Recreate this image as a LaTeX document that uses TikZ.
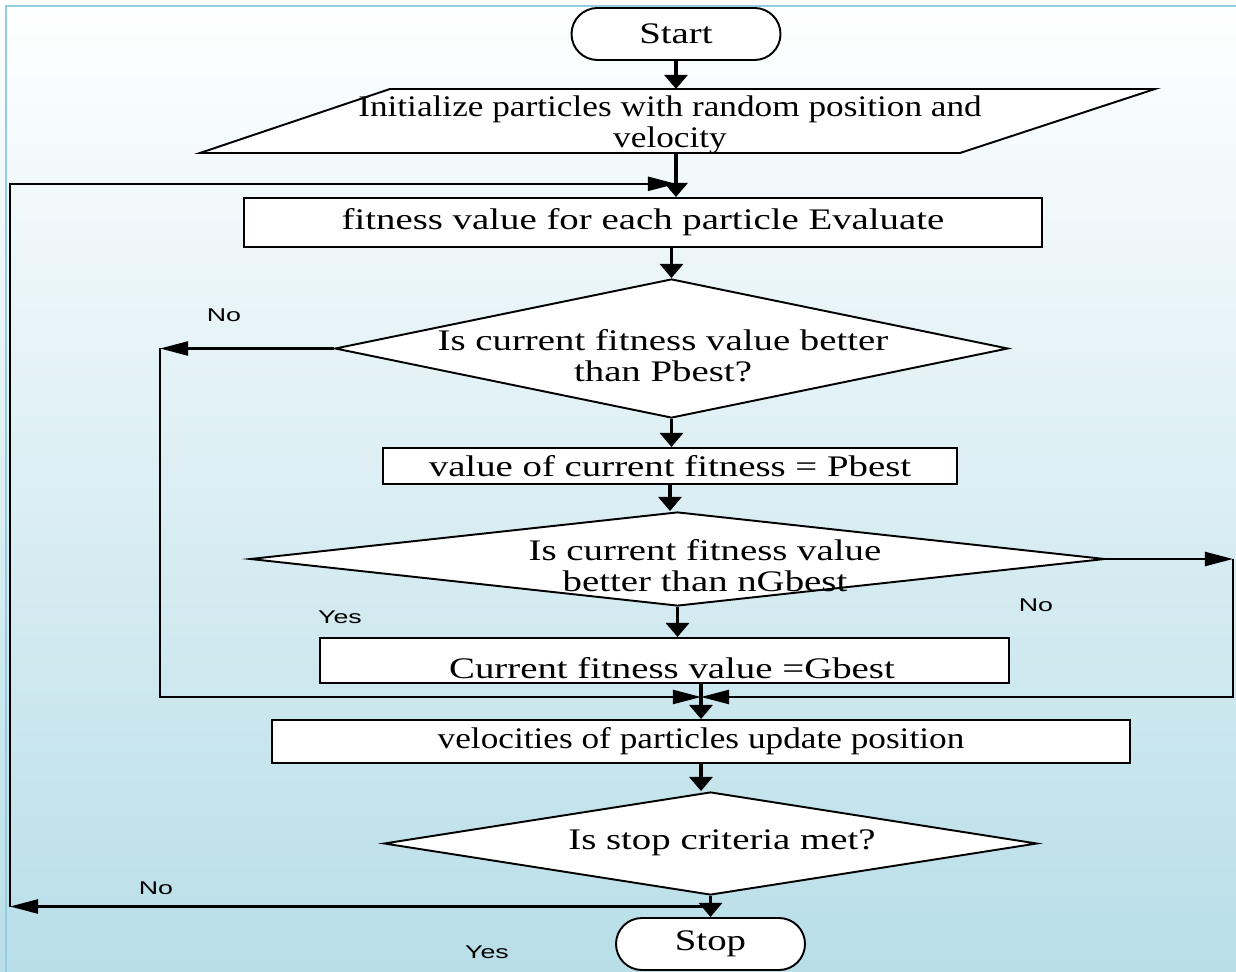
\documentclass[tikz,border=0pt]{standalone}
\usepackage{fontspec}
\setmainfont[FakeStretch=1.3]{Liberation Serif}
\newfontfamily\initfont[FakeStretch=1.18]{Liberation Serif}
\newfontfamily\yesnofont[FakeStretch=1.45]{Liberation Sans}
\usepackage{tikz}
\usetikzlibrary{arrows.meta,shapes.geometric,calc,positioning}
\definecolor{bgblue}{RGB}{184,222,232}
\definecolor{frameblue}{RGB}{150,205,222}

\begin{document}
\begin{tikzpicture}[x=0.02cm,y=-0.02cm,
  every node/.style={font=\fontsize{17}{17.5}\selectfont},
  narrow/.style={font=\initfont\fontsize{17}{17.5}\selectfont},
  box/.style={draw,line width=1.1pt,fill=white,inner sep=0pt,align=center},
  term/.style={box,rounded corners=0.52cm},
  decision/.style={draw,diamond,aspect=1,line width=1.1pt,fill=white,inner sep=0pt},
  flow/.style={-{Triangle[length=8pt,width=13pt]},line width=2pt},
  back/.style={-{Triangle[length=16pt,width=8pt]},line width=1.3pt},
  lbl/.style={font=\yesnofont\fontsize{10.5}{13}\selectfont}]

  \def\u{0.02cm};

  %background
  \useasboundingbox (0,0) rectangle (1236,972);
  \shade[top color=white,bottom color=bgblue] (0,0) rectangle (1236,972);
  \draw[frameblue,line width=1.2pt] (1236,6) -- (6,6) -- (6,972);

  %nodes
  \node[term,minimum width=209*\u,minimum height=52*\u] (start) at (676,34) {Start};

  \coordinate (pbl) at (200,153);
  \coordinate (pbr) at (960,153);
  \coordinate (ptr) at (1155,89);
  \coordinate (ptl) at (390,89);
  \draw[line width=1.1pt,fill=white] (pbl) -- (pbr) -- (ptr) -- (ptl) -- cycle;
  \node[narrow,align=center,inner sep=0pt] (init) at (670,125) {Initialize particles with random position and\\velocity};

  \node[box,minimum width=798*\u,minimum height=49*\u] (fit) at (643,222.5) {fitness value for each particle Evaluate};

  \node[decision,minimum width=673*\u,minimum height=139*\u] (d1) at (671.5,348.5) {};
  \node[align=center,inner sep=0pt] (d1txt) at (663,356) {Is current fitness value better\\than Pbest?};

  \node[box,minimum width=574*\u,minimum height=36*\u] (pb) at (670,466) {value of current fitness = Pbest};

  \node[decision,minimum width=855*\u,minimum height=94*\u] (d2) at (677.5,559) {};
  \node[align=center,inner sep=0pt] (d2txt) at (705,566) {Is current fitness value\\better than nGbest};

  \node[box,minimum width=689*\u,minimum height=45*\u] (gb) at (664.5,660.5) {};
  \node[inner sep=0pt] (gbtxt) at (672,668) {Current fitness value =Gbest};

  \node[box,narrow,minimum width=858*\u,minimum height=43*\u] (up) at (701,741.5) {velocities of particles update position};

  \node[decision,minimum width=653*\u,minimum height=103*\u] (d3) at (710.5,843.5) {};
  \node[inner sep=0pt] (d3txt) at (722,843) {Is stop criteria met?};

  \node[term,minimum width=189*\u,minimum height=52*\u] (stop) at (710.5,944) {Stop};

  %yes / no
  \foreach \x/\y/\t/\name in {224/315/No/no1,340/617/Yes/yes2,1036/605/No/no2,156/888/No/no3,487/952/Yes/yes3}{
    \node[lbl] (\name) at (\x,\y) {\t};
  }

  %helper points
  \coordinate (edge) at (10,0);
  \coordinate (busL) at (160,0);
  \coordinate (busR) at (1233,0);
  \coordinate (j0) at ($(start.south |- pbl)!0.7!(start.south |- fit.north)$);
  \coordinate (j1) at (701,697);
  \coordinate (j3) at ($(d3.south)!0.5!(stop.north)$);

  %main flow
  \draw[flow] (start.south) -- (start.south |- ptl);
  \draw[flow] (start.south |- pbl) -- (start.south |- fit.north);
  \draw[flow] (d1.north |- fit.south) -- (d1.north);
  \draw[flow] (d1.south) -- (d1.south |- pb.north);
  \draw[flow] (pb.south) -- (pb.south |- d2.north);
  \draw[flow] (d2.south) -- (d2.south |- gb.north);
  \draw[flow] (up.north |- gb.south) -- (up.north);
  \draw[flow] (up.south) -- (up.south |- d3.north);
  \draw[flow] (d3.south) -- (stop.north);

  %loops
  \draw[back] (d1.west) -- (d1.west -| busL);
  \draw[back] (d1.west -| busL) |- (j1);
  \draw[back] (d2.east) -- (d2.east -| busR);
  \draw[back] (d2.east -| busR) |- (j1);
  \draw[back] (j3) -- (j3 -| edge);
  \draw[back] (j3 -| edge) |- (j0);

\end{tikzpicture}
\end{document}
